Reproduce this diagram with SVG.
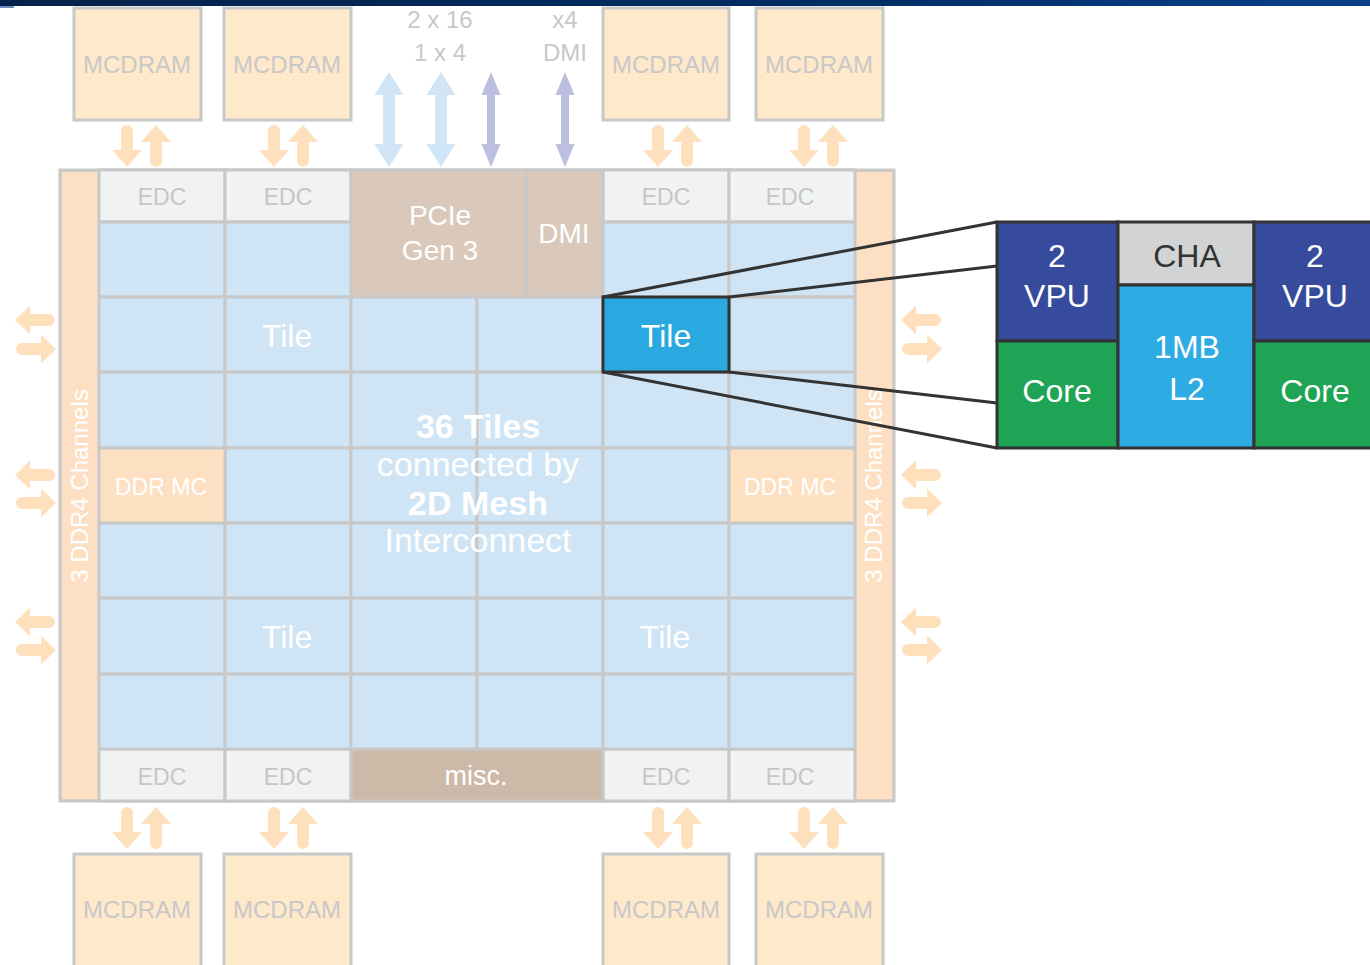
<svg xmlns="http://www.w3.org/2000/svg" width="1370" height="965" viewBox="0 0 1370 965">
<style>
text{font-family:"Liberation Sans",Arial,sans-serif;text-anchor:middle}
.mc{fill:#fee9cb;stroke:#c8c8c8;stroke-width:3}
.mct{fill:#c8c8c8;font-size:24px}
.edc{fill:#f1f2f2;stroke:#c8c8c8;stroke-width:3}
.edct{fill:#c6c6c6;font-size:23px}
.cell{fill:#cfe5f5;stroke:#c8c8c8;stroke-width:3}
.ddr{fill:#fde0c2;stroke:#c8c8c8;stroke-width:3}
.pc{fill:#dac9bb;stroke:#c8c8c8;stroke-width:3}
.wt{fill:#ffffff}
.lbl{fill:#c8c8c8;font-size:24px}
.oa{fill:#fee0bd}
.det{stroke:#333333;stroke-width:3}
.dt{fill:#ffffff;font-size:32px}
.zl{stroke:#333333;stroke-width:3;fill:none}
</style>
<defs>
<linearGradient id="bar" x1="0" y1="0" x2="1" y2="0">
<stop offset="0" stop-color="#06224a"/>
<stop offset="0.6" stop-color="#002d63"/>
<stop offset="1" stop-color="#0a3f8a"/>
</linearGradient>
<path id="dn" d="M-6 6 A6 6 0 0 1 6 6 L6 25 L15 25 L0 42 L-15 25 L-6 25 Z"/>
<path id="lf" d="M0 0 L15 -14.5 L15 -6 L34 -6 A6 6 0 0 1 34 6 L15 6 L15 14.5 Z"/>
<path id="dbl" d="M0 72 L14.5 95 L6 95 L6 144 L14.5 144 L0 167 L-14.5 144 L-6 144 L-6 95 L-14.5 95 Z"/>
<path id="dbp" d="M0 72 L9.5 95 L4 95 L4 144 L9.5 144 L0 167 L-9.5 144 L-4 144 L-4 95 L-9.5 95 Z"/>
</defs>

<rect x="0" y="0" width="1370" height="6" fill="url(#bar)"/>
<rect x="0" y="6" width="14" height="2" fill="#6a8cc0"/>

<!-- MCDRAM nodes -->
<g id="mcdram-t1"><rect class="mc" x="74" y="8" width="127" height="112"/><text class="mct" x="137" y="73">MCDRAM</text></g>
<g id="mcdram-t2"><rect class="mc" x="224" y="8" width="127" height="112"/><text class="mct" x="287" y="73">MCDRAM</text></g>
<g id="mcdram-t3"><rect class="mc" x="603" y="8" width="126" height="112"/><text class="mct" x="666" y="73">MCDRAM</text></g>
<g id="mcdram-t4"><rect class="mc" x="756" y="8" width="127" height="112"/><text class="mct" x="819" y="73">MCDRAM</text></g>
<g id="mcdram-b1"><rect class="mc" x="74" y="854" width="127" height="120"/><text class="mct" x="137" y="918">MCDRAM</text></g>
<g id="mcdram-b2"><rect class="mc" x="224" y="854" width="127" height="120"/><text class="mct" x="287" y="918">MCDRAM</text></g>
<g id="mcdram-b3"><rect class="mc" x="603" y="854" width="126" height="120"/><text class="mct" x="666" y="918">MCDRAM</text></g>
<g id="mcdram-b4"><rect class="mc" x="756" y="854" width="127" height="120"/><text class="mct" x="819" y="918">MCDRAM</text></g>

<!-- IO labels -->
<g id="io-labels">
<text class="lbl" x="440" y="28">2 x 16</text>
<text class="lbl" x="440" y="61">1 x 4</text>
<text class="lbl" x="565" y="28">x4</text>
<text class="lbl" x="565" y="61">DMI</text>
</g>

<!-- chip frame -->
<g id="chip">
<rect x="60" y="170" width="834" height="631" fill="#c8c8c8"/>
<rect x="61.5" y="171.5" width="37" height="628" fill="#fde0c3"/>
<rect x="855.5" y="171.5" width="37" height="628" fill="#fde0c3"/>
<rect x="60" y="170" width="834" height="631" fill="none" stroke="#c8c8c8" stroke-width="3"/>
</g>

<g id="channels-left"><text class="wt" font-size="24" transform="translate(88,486) rotate(-90)">3 DDR4 Channels</text></g>
<g id="channels-right"><text class="wt" font-size="24" transform="translate(882,486) rotate(-90)">3 DDR4 Channels</text></g>

<!-- EDC nodes -->
<g id="edc-t1"><rect class="edc" x="99" y="170" width="126" height="52"/><text class="edct" x="162" y="205">EDC</text></g>
<g id="edc-t2"><rect class="edc" x="225" y="170" width="126" height="52"/><text class="edct" x="288" y="205">EDC</text></g>
<g id="edc-t3"><rect class="edc" x="603" y="170" width="126" height="52"/><text class="edct" x="666" y="205">EDC</text></g>
<g id="edc-t4"><rect class="edc" x="729" y="170" width="126" height="52"/><text class="edct" x="790" y="205">EDC</text></g>
<g id="edc-b1"><rect class="edc" x="99" y="749" width="126" height="52"/><text class="edct" x="162" y="785">EDC</text></g>
<g id="edc-b2"><rect class="edc" x="225" y="749" width="126" height="52"/><text class="edct" x="288" y="785">EDC</text></g>
<g id="edc-b3"><rect class="edc" x="603" y="749" width="126" height="52"/><text class="edct" x="666" y="785">EDC</text></g>
<g id="edc-b4"><rect class="edc" x="729" y="749" width="126" height="52"/><text class="edct" x="790" y="785">EDC</text></g>

<g id="pcie"><rect class="pc" x="351" y="170" width="176" height="127"/><text class="wt" font-size="28" x="440" y="225">PCIe</text><text class="wt" font-size="28" x="440" y="260">Gen 3</text></g>
<g id="dmi"><rect class="pc" x="527" y="170" width="76" height="127"/><text class="wt" font-size="28" x="564" y="243">DMI</text></g>
<g id="misc"><rect x="351" y="749" width="252" height="52" fill="#ccb9a8" stroke="#c8c8c8" stroke-width="3"/><text class="wt" font-size="27" x="476" y="785">misc.</text></g>

<!-- mesh cells -->
<g id="mesh">
<rect class="cell" x="99" y="222" width="126" height="75"/>
<rect class="cell" x="225" y="222" width="126" height="75"/>
<rect class="cell" x="603" y="222" width="126" height="75"/>
<rect class="cell" x="729" y="222" width="126" height="75"/>

<rect class="cell" x="99" y="297" width="126" height="75"/>
<rect class="cell" x="225" y="297" width="126" height="75"/>
<rect class="cell" x="351" y="297" width="126" height="75"/>
<rect class="cell" x="477" y="297" width="126" height="75"/>
<rect class="cell" x="729" y="297" width="126" height="75"/>

<rect class="cell" x="99" y="372" width="126" height="76"/>
<rect class="cell" x="225" y="372" width="126" height="76"/>
<rect class="cell" x="351" y="372" width="126" height="76"/>
<rect class="cell" x="477" y="372" width="126" height="76"/>
<rect class="cell" x="603" y="372" width="126" height="76"/>
<rect class="cell" x="729" y="372" width="126" height="76"/>

<rect class="cell" x="225" y="448" width="126" height="75"/>
<rect class="cell" x="351" y="448" width="126" height="75"/>
<rect class="cell" x="477" y="448" width="126" height="75"/>
<rect class="cell" x="603" y="448" width="126" height="75"/>

<rect class="cell" x="99" y="523" width="126" height="75"/>
<rect class="cell" x="225" y="523" width="126" height="75"/>
<rect class="cell" x="351" y="523" width="126" height="75"/>
<rect class="cell" x="477" y="523" width="126" height="75"/>
<rect class="cell" x="603" y="523" width="126" height="75"/>
<rect class="cell" x="729" y="523" width="126" height="75"/>

<rect class="cell" x="99" y="598" width="126" height="76"/>
<rect class="cell" x="225" y="598" width="126" height="76"/>
<rect class="cell" x="351" y="598" width="126" height="76"/>
<rect class="cell" x="477" y="598" width="126" height="76"/>
<rect class="cell" x="603" y="598" width="126" height="76"/>
<rect class="cell" x="729" y="598" width="126" height="76"/>

<rect class="cell" x="99" y="674" width="126" height="75"/>
<rect class="cell" x="225" y="674" width="126" height="75"/>
<rect class="cell" x="351" y="674" width="126" height="75"/>
<rect class="cell" x="477" y="674" width="126" height="75"/>
<rect class="cell" x="603" y="674" width="126" height="75"/>
<rect class="cell" x="729" y="674" width="126" height="75"/>
</g>

<g id="ddrmc-left"><rect class="ddr" x="99" y="448" width="126" height="75"/><text class="wt" font-size="23" x="161" y="495">DDR MC</text></g>
<g id="ddrmc-right"><rect class="ddr" x="729" y="448" width="126" height="75"/><text class="wt" font-size="23" x="790" y="495">DDR MC</text></g>

<g id="tile-labels">
<text class="wt" font-size="32" x="287" y="347">Tile</text>
<text class="wt" font-size="32" x="287" y="648">Tile</text>
<text class="wt" font-size="32" x="665" y="648">Tile</text>
</g>

<g id="mesh-caption">
<text class="wt" font-size="34" font-weight="bold" x="478" y="438">36 Tiles</text>
<text class="wt" font-size="34" x="478" y="476">connected by</text>
<text class="wt" font-size="34" font-weight="bold" x="478" y="515">2D Mesh</text>
<text class="wt" font-size="34" x="478" y="552">Interconnect</text>
</g>

<g id="tile-highlight"><rect x="603" y="297" width="126" height="75" fill="#29a9e0" stroke="#333333" stroke-width="3"/><text class="wt" font-size="32" x="666" y="347">Tile</text></g>

<!-- connectors -->
<g id="connectors">
<g class="oa">
<use href="#dn" transform="translate(127,125)"/><use href="#dn" transform="translate(156,167) rotate(180)"/>
<use href="#dn" transform="translate(274,125)"/><use href="#dn" transform="translate(303,167) rotate(180)"/>
<use href="#dn" transform="translate(658,125)"/><use href="#dn" transform="translate(687,167) rotate(180)"/>
<use href="#dn" transform="translate(804,125)"/><use href="#dn" transform="translate(833,167) rotate(180)"/>
<use href="#dn" transform="translate(127,807)"/><use href="#dn" transform="translate(156,849) rotate(180)"/>
<use href="#dn" transform="translate(274,807)"/><use href="#dn" transform="translate(303,849) rotate(180)"/>
<use href="#dn" transform="translate(658,807)"/><use href="#dn" transform="translate(687,849) rotate(180)"/>
<use href="#dn" transform="translate(804,807)"/><use href="#dn" transform="translate(833,849) rotate(180)"/>
<use href="#lf" transform="translate(15,320)"/><use href="#lf" transform="translate(56,349) scale(-1,1)"/>
<use href="#lf" transform="translate(15,475)"/><use href="#lf" transform="translate(56,503) scale(-1,1)"/>
<use href="#lf" transform="translate(15,622)"/><use href="#lf" transform="translate(56,650) scale(-1,1)"/>
<use href="#lf" transform="translate(901,320)"/><use href="#lf" transform="translate(942,349) scale(-1,1)"/>
<use href="#lf" transform="translate(901,475)"/><use href="#lf" transform="translate(942,503) scale(-1,1)"/>
<use href="#lf" transform="translate(901,622)"/><use href="#lf" transform="translate(942,650) scale(-1,1)"/>
</g>
<use href="#dbl" x="389" fill="#d0e5f5"/>
<use href="#dbl" x="441" fill="#d0e5f5"/>
<use href="#dbp" x="491" fill="#bdbfe0"/>
<use href="#dbp" x="565" fill="#bdbfe0"/>
<path class="zl" d="M603 297 L997 222 M729 297 L997 266 M729 372 L997 403 M603 372 L997 448"/>
</g>

<!-- tile detail -->
<g id="tile-detail">
<g id="vpu-left"><rect class="det" x="997" y="222" width="121" height="119" fill="#364b9c"/><text class="dt" x="1057" y="267">2</text><text class="dt" x="1057" y="307">VPU</text></g>
<g id="core-left"><rect class="det" x="997" y="341" width="121" height="107" fill="#1fa354"/><text class="dt" x="1057" y="402">Core</text></g>
<g id="cha"><rect class="det" x="1118" y="222" width="136" height="63" fill="#d1d3d4"/><text x="1187" y="267" font-size="32" fill="#333333">CHA</text></g>
<g id="l2"><rect class="det" x="1118" y="285" width="136" height="163" fill="#2eabe2"/><text class="dt" x="1187" y="358">1MB</text><text class="dt" x="1187" y="400">L2</text></g>
<g id="vpu-right"><rect class="det" x="1254" y="222" width="130" height="119" fill="#364b9c"/><text class="dt" x="1315" y="267">2</text><text class="dt" x="1315" y="307">VPU</text></g>
<g id="core-right"><rect class="det" x="1254" y="341" width="130" height="107" fill="#1fa354"/><text class="dt" x="1315" y="402">Core</text></g>
</g>
</svg>
